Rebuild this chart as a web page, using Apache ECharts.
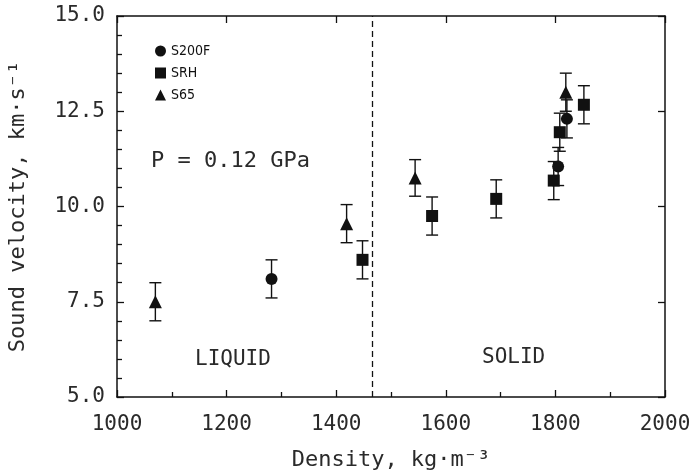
<!DOCTYPE html>
<html>
<head>
<meta charset="utf-8">
<script src="https://cdn.jsdelivr.net/npm/echarts@6/dist/echarts.min.js"></script>
<style>
  html, body { margin: 0; padding: 0; background: #fff; }
  #chart { width: 691px; height: 476px; }
</style>
</head>
<body>
<div id="chart"></div>
<script>
// data (density kg/m3, sound velocity km/s, error +-)
const s200fX = [1282, 1805, 1821]
const s200fY = [8.1, 11.05, 12.3]
const s200fErr = [0.5, 0.5, 0.5]

const srhX = [1448, 1575, 1692, 1797, 1808, 1852]
const srhY = [8.6, 9.75, 10.2, 10.68, 11.95, 12.67]
const srhErr = [0.5, 0.5, 0.5, 0.5, 0.5, 0.5]

const s65X = [1070, 1419, 1544, 1819]
const s65Y = [7.5, 9.55, 10.75, 13.0]
const s65Err = [0.5, 0.5, 0.48, 0.5]

const yTicks = [5.0, 7.5, 10.0, 12.5, 15.0]
const boundary = 1465

const font = 'DejaVu Sans Mono'
const ink = '#111'
const txt = '#2a2a2a'

function pts(xs, ys) {
  return xs.map((x, i) => [x, ys[i]])
}
function errPts(xs, ys, es) {
  return xs.map((x, i) => [x, ys[i] - es[i], ys[i] + es[i]])
}

// error bar drawn with the axis scales
function errorBar(params, api) {
  const lo = api.coord([api.value(0), api.value(1)])
  const hi = api.coord([api.value(0), api.value(2)])
  const w = 6
  const style = { stroke: ink, lineWidth: 1.4 }
  return {
    type: 'group',
    children: [
      { type: 'line', shape: { x1: lo[0], y1: lo[1], x2: hi[0], y2: hi[1] }, style },
      { type: 'line', shape: { x1: lo[0] - w, y1: lo[1], x2: lo[0] + w, y2: lo[1] }, style },
      { type: 'line', shape: { x1: hi[0] - w, y1: hi[1], x2: hi[0] + w, y2: hi[1] }, style }
    ]
  }
}

const chart = echarts.init(document.getElementById('chart'))

const axisLine = { show: true, lineStyle: { color: ink, width: 1.5 } }
const tick = { show: true, inside: true, length: 7, lineStyle: { color: ink, width: 1.3 } }

chart.setOption({
  backgroundColor: '#fff',
  animation: false,
  grid: { left: 117, right: 26, top: 16, bottom: 79, containLabel: false, outerBoundsMode: 'none' },
  legend: {
    orient: 'vertical',
    left: 150,
    top: 39,
    itemGap: 8,
    itemWidth: 11,
    itemHeight: 11,
    textStyle: { fontFamily: 'DejaVu Sans Condensed', fontSize: 14, color: ink },
    data: [
      { name: 'S200F', icon: 'circle' },
      { name: 'SRH', icon: 'rect' },
      { name: 'S65', icon: 'triangle' }
    ]
  },
  xAxis: [{
    type: 'value',
    min: 1000,
    max: 2000,
    interval: 200,
    name: 'Density, kg·m⁻³',
    nameLocation: 'middle',
    nameGap: 52,
    nameTextStyle: { fontFamily: font, fontSize: 22, color: txt },
    axisLine,
    axisTick: tick,
    minorTick: { show: true, splitNumber: 2, length: 5, lineStyle: { color: ink, width: 1.3 } },
    axisLabel: { fontFamily: font, fontSize: 21, color: txt, margin: 17, formatter: v => String(v) },
    splitLine: { show: false }
  }, {
    type: 'value',
    position: 'top',
    min: 1000,
    max: 2000,
    interval: 200,
    axisLine,
    axisTick: tick,
    axisLabel: { show: false },
    splitLine: { show: false }
  }],
  yAxis: [{
    type: 'value',
    min: 5,
    max: 15,
    interval: 2.5,
    name: 'Sound velocity, km·s⁻¹',
    nameLocation: 'middle',
    nameGap: 88,
    nameTextStyle: { fontFamily: font, fontSize: 22, color: txt },
    axisLine,
    axisTick: tick,
    minorTick: { show: true, splitNumber: 5, length: 5, lineStyle: { color: ink, width: 1.3 } },
    axisLabel: {
      fontFamily: font, fontSize: 21, color: txt, margin: 12,
      formatter: v => yTicks.includes(v) ? v.toFixed(1) : ''
    },
    splitLine: { show: false }
  }, {
    type: 'value',
    position: 'right',
    min: 5,
    max: 15,
    interval: 2.5,
    axisLine,
    axisTick: tick,
    axisLabel: { show: false },
    splitLine: { show: false }
  }],
  graphic: [
    { type: 'text', left: 151, top: 150, style: { text: 'P = 0.12 GPa', font: '22px "DejaVu Sans Mono"', fill: txt } },
    { type: 'text', left: 195, top: 349, style: { text: 'LIQUID', font: '21px "DejaVu Sans Mono"', fill: txt } },
    { type: 'text', left: 482, top: 347, style: { text: 'SOLID', font: '21px "DejaVu Sans Mono"', fill: txt } }
  ],
  series: [
    {
      type: 'custom', name: 'S200F-err', renderItem: errorBar, silent: true,
      encode: { x: 0, y: [1, 2] }, data: errPts(s200fX, s200fY, s200fErr), z: 1
    },
    {
      type: 'custom', name: 'SRH-err', renderItem: errorBar, silent: true,
      encode: { x: 0, y: [1, 2] }, data: errPts(srhX, srhY, srhErr), z: 1
    },
    {
      type: 'custom', name: 'S65-err', renderItem: errorBar, silent: true,
      encode: { x: 0, y: [1, 2] }, data: errPts(s65X, s65Y, s65Err), z: 1
    },
    {
      type: 'scatter', name: 'S200F', symbol: 'circle', symbolSize: 12,
      itemStyle: { color: ink, opacity: 1 }, data: pts(s200fX, s200fY), z: 3,
      markLine: {
        silent: true,
        symbol: 'none',
        label: { show: false },
        lineStyle: { color: ink, type: [6, 4], width: 1.3 },
        data: [{ xAxis: boundary }]
      }
    },
    {
      type: 'scatter', name: 'SRH', symbol: 'rect', symbolSize: 12,
      itemStyle: { color: ink, opacity: 1 }, data: pts(srhX, srhY), z: 3
    },
    {
      type: 'scatter', name: 'S65', symbol: 'triangle', symbolSize: 13,
      itemStyle: { color: ink, opacity: 1 }, data: pts(s65X, s65Y), z: 3
    }
  ]
})
</script>
</body>
</html>
